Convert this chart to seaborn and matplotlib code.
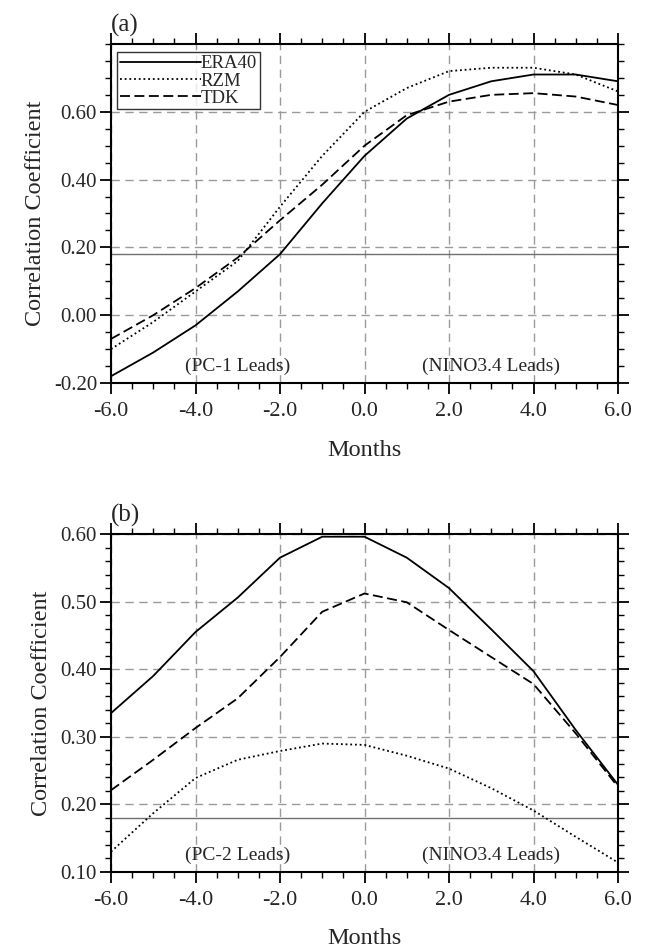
import numpy as np
import pandas as pd
import matplotlib
matplotlib.use("Agg")
import matplotlib.pyplot as plt
from matplotlib.ticker import MultipleLocator, FixedLocator, FormatStrFormatter
import seaborn as sns

# ---- data ----
months = [-6, -5, -4, -3, -2, -1, 0, 1, 2, 3, 4, 5, 6]

a_era40 = [-0.18, -0.11, -0.03, 0.07, 0.18, 0.33, 0.47, 0.58, 0.65, 0.69, 0.71, 0.71, 0.69]
a_rzm = [-0.10, -0.02, 0.07, 0.16, 0.32, 0.47, 0.60, 0.67, 0.72, 0.73, 0.73, 0.71, 0.66]
a_tdk = [-0.07, 0.00, 0.08, 0.17, 0.28, 0.385, 0.50, 0.59, 0.63, 0.65, 0.655, 0.645, 0.62]

b_era40 = [0.335, 0.39, 0.455, 0.506, 0.565, 0.596, 0.596, 0.565, 0.52, 0.459, 0.397, 0.31, 0.229]
b_rzm = [0.13, 0.187, 0.239, 0.266, 0.279, 0.29, 0.288, 0.272, 0.253, 0.224, 0.191, 0.152, 0.114]
b_tdk = [0.221, 0.266, 0.313, 0.357, 0.418, 0.485, 0.512, 0.499, 0.458, 0.418, 0.378, 0.305, 0.226]

series_names = ["ERA40", "RZM", "TDK"]
sig_level = 0.18
x_ticks = [-6, -4, -2, 0, 2, 4, 6]

sns.set_theme(style="ticks")
plt.rcParams["font.family"] = ["Liberation Serif", "DejaVu Serif"]

styles = {
    "ERA40": "-",
    "RZM": (0, (1.0, 1.6)),
    "TDK": (0, (5.5, 2.5)),
}

fig = plt.figure(figsize=(6.46, 9.49), dpi=100)
ax_a = fig.add_axes([111 / 646, 1 - 383 / 949, 507 / 646, 339 / 949])
ax_b = fig.add_axes([111 / 646, 1 - 872 / 949, 507 / 646, 338 / 949])


def draw_panel(ax, data, ylim, yminor, ylabels, tag, lead_text, legend):
    df = pd.DataFrame({"Months": months * 3,
                       "r": sum(data, []),
                       "set": sum([[n] * len(months) for n in series_names], [])})

    # grid first so curves sit on top
    for xv in x_ticks:
        ax.axvline(xv, color="#9a9a9a", lw=1.0, ls=(0, (6, 4)), zorder=0)
    for yv in ylabels:
        ax.axhline(yv, color="#9a9a9a", lw=1.0, ls=(0, (6, 4)), zorder=0)
    ax.axhline(sig_level, color="#707070", lw=1.0, zorder=1)

    for name in series_names:
        sub = df[df["set"] == name]
        sns.lineplot(data=sub, x="Months", y="r", ax=ax, color="black",
                     lw=1.3, linestyle=styles[name], label=name if legend else None,
                     zorder=3)

    ax.set_xlim(-6, 6)
    ax.set_ylim(*ylim)
    ax.xaxis.set_major_locator(FixedLocator(x_ticks))
    ax.xaxis.set_minor_locator(MultipleLocator(0.5))
    ax.yaxis.set_major_locator(FixedLocator(ylabels))
    ax.yaxis.set_minor_locator(MultipleLocator(yminor))
    ax.xaxis.set_major_formatter(FormatStrFormatter("%.1f"))
    ax.yaxis.set_major_formatter(FormatStrFormatter("%.2f"))
    ax.tick_params(axis="both", which="major", direction="out", length=8, width=1.3,
                   top=True, right=True, color="black")
    ax.tick_params(axis="both", which="minor", direction="out", length=4.5, width=1.0,
                   top=True, right=True, color="black")
    ax.tick_params(axis="x", labelsize=16, pad=6)
    ax.tick_params(axis="y", labelsize=15, pad=2)
    for sp in ax.spines.values():
        sp.set_visible(True)
        sp.set_linewidth(1.5)
        sp.set_color("black")

    ax.set_xlabel("Months", fontsize=17.5, labelpad=13)
    ax.set_ylabel("Correlation Coefficient", fontsize=17.5, labelpad=6)
    ax.text(0.0, 1.02, tag, transform=ax.transAxes, fontsize=18,
            ha="left", va="bottom")
    ypos = ylim[0] + 0.05 * (ylim[1] - ylim[0])
    ax.text(-3, ypos, lead_text, fontsize=14, ha="center", va="center")
    ax.text(3, ypos, "(NINO3.4 Leads)", fontsize=14, ha="center", va="center")

    if legend:
        leg = ax.legend(loc="upper left", bbox_to_anchor=(0.012, 0.975),
                        fontsize=13.5, frameon=True, fancybox=False,
                        handlelength=4.3, handletextpad=0.0, borderpad=0.15,
                        labelspacing=0.0, borderaxespad=0.0)
        leg.get_frame().set_edgecolor("black")
        leg.get_frame().set_linewidth(1.0)
    else:
        if ax.get_legend() is not None:
            ax.get_legend().remove()


draw_panel(ax_a, [a_era40, a_rzm, a_tdk], (-0.2, 0.8), 0.05,
           [-0.2, 0.0, 0.2, 0.4, 0.6], "(a)", "(PC-1 Leads)", True)
draw_panel(ax_b, [b_era40, b_rzm, b_tdk], (0.1, 0.6), 0.02,
           [0.1, 0.2, 0.3, 0.4, 0.5, 0.6], "(b)", "(PC-2 Leads)", False)

fig.savefig("out.png", dpi=100)
